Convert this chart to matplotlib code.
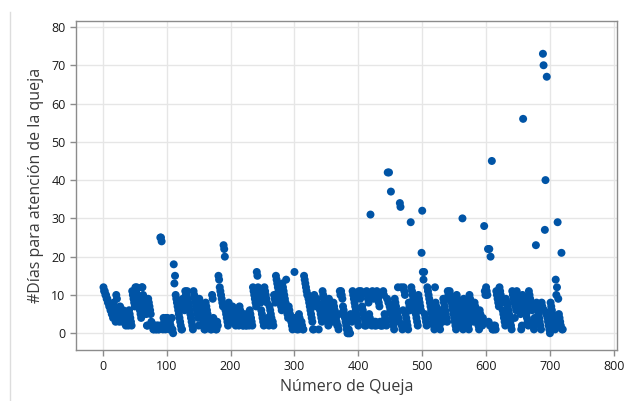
import matplotlib
matplotlib.use("Agg")
import matplotlib.pyplot as plt
from matplotlib.lines import Line2D

# Días para atención de cada queja (Número de Queja = 1..720)
dias = [
    12, 11, 11, 10, 10, 9, 9, 8, 8, 7,
    7, 6, 6, 5, 5, 4, 8, 7, 4, 3,
    10, 9, 6, 5, 4, 3, 7, 6, 5, 4,
    3, 6, 5, 4, 3, 2, 5, 4, 3, 2,
    6, 5, 4, 3, 2, 11, 10, 9, 8, 7,
    12, 11, 12, 10, 9, 8, 7, 6, 5, 4,
    12, 12, 10, 9, 8, 7, 6, 5, 2, 2,
    9, 8, 7, 6, 5, 3, 2, 2, 1, 1,
    2, 2, 1, 1, 2, 2, 1, 1, 2, 25,
    25, 24, 2, 1, 4, 3, 2, 1, 4, 3,
    4, 3, 2, 1, 3, 2, 1, 4, 1, 0,
    18, 13, 15, 10, 9, 8, 7, 6, 5, 4,
    3, 2, 1, 1, 9, 8, 7, 6, 11, 10,
    10, 11, 9, 8, 7, 6, 5, 4, 3, 2,
    1, 11, 10, 9, 8, 7, 6, 5, 4, 2,
    9, 8, 7, 6, 5, 4, 3, 2, 1, 1,
    8, 7, 6, 5, 4, 3, 3, 2, 1, 1,
    10, 9, 4, 3, 2, 2, 1, 1, 3, 2,
    15, 14, 12, 11, 10, 9, 8, 7, 23, 22,
    20, 6, 5, 4, 3, 2, 8, 7, 6, 5,
    4, 3, 7, 6, 5, 4, 3, 2, 6, 5,
    4, 3, 2, 7, 6, 5, 4, 3, 2, 2,
    5, 4, 3, 2, 2, 5, 4, 3, 2, 6,
    5, 4, 3, 2, 12, 11, 10, 9, 8, 7,
    16, 15, 12, 11, 10, 9, 8, 6, 5, 4,
    3, 2, 12, 11, 10, 9, 8, 4, 3, 2,
    7, 6, 5, 4, 3, 3, 2, 10, 9, 8,
    15, 14, 13, 12, 11, 10, 9, 8, 7, 6,
    13, 12, 11, 10, 9, 8, 14, 6, 5, 4,
    7, 6, 5, 4, 3, 2, 1, 3, 2, 16,
    4, 3, 2, 1, 2, 1, 5, 4, 3, 2,
    3, 2, 1, 1, 15, 14, 13, 12, 11, 10,
    10, 9, 8, 7, 6, 5, 4, 3, 1, 1,
    10, 9, 8, 7, 9, 8, 7, 1, 7, 6,
    5, 4, 3, 11, 10, 9, 8, 7, 6, 5,
    4, 3, 2, 9, 8, 7, 6, 5, 4, 3,
    8, 7, 6, 5, 4, 3, 2, 2, 1, 5,
    11, 10, 11, 10, 9, 7, 6, 5, 4, 3,
    2, 1, 0, 0, 1, 0, 0, 5, 4, 3,
    11, 10, 9, 8, 7, 6, 5, 4, 3, 2,
    11, 10, 9, 11, 10, 7, 6, 5, 4, 2,
    3, 2, 11, 10, 9, 8, 5, 4, 31, 3,
    2, 11, 10, 9, 3, 2, 3, 2, 11, 10,
    9, 8, 7, 3, 2, 2, 3, 2, 11, 10,
    5, 4, 3, 2, 9, 42, 8, 42, 7, 6,
    37, 5, 4, 3, 2, 1, 9, 8, 7, 6,
    5, 12, 4, 3, 34, 33, 12, 2, 1, 6,
    12, 11, 10, 5, 4, 3, 2, 1, 8, 7,
    6, 29, 12, 11, 10, 9, 8, 7, 6, 5,
    4, 3, 2, 10, 9, 8, 7, 6, 21, 32,
    16, 14, 16, 5, 4, 3, 2, 12, 11, 10,
    9, 8, 7, 6, 5, 4, 3, 2, 1, 12,
    8, 7, 6, 5, 4, 3, 2, 1, 6, 5,
    4, 3, 9, 8, 7, 6, 5, 4, 3, 11,
    10, 9, 11, 10, 9, 8, 7, 6, 5, 4,
    3, 2, 1, 10, 9, 8, 7, 6, 5, 4,
    3, 2, 30, 1, 9, 8, 7, 6, 5, 4,
    3, 2, 1, 10, 9, 8, 7, 6, 5, 4,
    3, 8, 7, 6, 5, 4, 3, 2, 1, 6,
    5, 4, 3, 2, 4, 3, 28, 11, 10, 12,
    11, 10, 22, 3, 22, 2, 20, 2, 45, 1,
    1, 2, 1, 2, 1, 11, 10, 9, 8, 7,
    12, 11, 10, 9, 8, 6, 5, 4, 3, 2,
    9, 8, 8, 7, 6, 5, 4, 3, 2, 1,
    11, 10, 9, 8, 4, 7, 6, 11, 10, 9,
    8, 7, 6, 5, 1, 2, 10, 56, 9, 8,
    7, 6, 5, 4, 3, 2, 11, 10, 9, 8,
    7, 6, 3, 2, 1, 4, 3, 23, 8, 7,
    6, 5, 4, 3, 2, 1, 8, 7, 73, 70,
    6, 27, 40, 5, 67, 4, 3, 2, 1, 0,
    8, 7, 6, 5, 4, 3, 2, 1, 14, 10,
    12, 29, 9, 5, 4, 3, 2, 21, 1, 1,
]
queja = list(range(1, len(dias) + 1))

x_ticks = [0, 100, 200, 300, 400, 500, 600, 700, 800]
y_ticks = [0, 10, 20, 30, 40, 50, 60, 70, 80]

plt.rcParams['font.family'] = ['Open Sans', 'DejaVu Sans']

fig = plt.figure(figsize=(6.41, 4.01), dpi=100)
ax = fig.add_axes([0.1186, 0.127, 0.844, 0.821])

ax.scatter(queja, dias, s=33, color='#0054a6', edgecolors='none', zorder=3)

ax.set_xlim(-42, 805)
ax.set_ylim(-4.4, 81.6)
ax.set_xticks(x_ticks)
ax.set_yticks(y_ticks)
ax.grid(True, color='#e6e6e6', linewidth=1.0, zorder=0)
ax.set_axisbelow(True)

for s in ax.spines.values():
    s.set_color('#8c8c8c')
    s.set_linewidth(1.0)

ax.tick_params(axis='both', colors='#8c8c8c', labelcolor='#1a1a1a',
               labelsize=9, length=4, width=1)

ax.set_xlabel('Número de Queja', fontsize=11.5, color='#3a3a3a', labelpad=4)
ax.set_ylabel('#Días para atención de la queja', fontsize=11.5, color='#3a3a3a', labelpad=5)

# light page border on the left
fig.add_artist(Line2D([9.5 / 641, 9.5 / 641], [0, 1 - 12 / 401],
                      transform=fig.transFigure, color='#dddddd', linewidth=1))

fig.savefig('out.png', dpi=100)
